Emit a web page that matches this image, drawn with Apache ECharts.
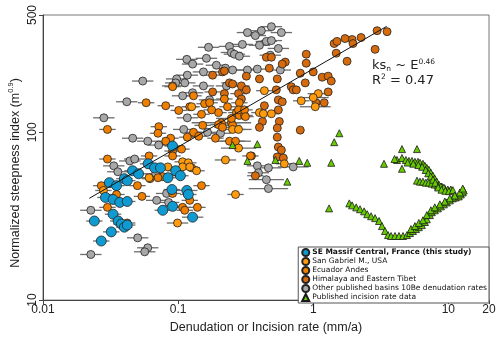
<!DOCTYPE html>
<html>
<head>
<meta charset="utf-8">
<script src="https://cdn.jsdelivr.net/npm/echarts@6/dist/echarts.min.js"></script>
<style>
  html, body { margin: 0; padding: 0; background: #fff; }
  #chart { width: 500px; height: 339px; }
</style>
</head>
<body>
<div id="chart"></div>
<script>
// tick labels
const xTicks = [0.01, 0.1, 1, 10, 20];
const yTicks = [10, 100, 500];

// [rate mm/a, ksn, relative x error (optional)]
const massifCentral = [
  [0.091, 82.8], [0.060, 64.9], [0.067, 61.4], [0.074, 61.4], [0.046, 59.0], [0.051, 56.6],
  [0.040, 52.9], [0.042, 51.5], [0.031, 50.1], [0.035, 48.1], [0.084, 53.6], [0.096, 59.0],
  [0.104, 55.1], [0.090, 45.6], [0.116, 45.0, 0.2], [0.119, 42.6], [0.029, 40.9], [0.033, 39.8],
  [0.037, 38.2], [0.042, 38.7], [0.091, 36.2, 0.2], [0.077, 34.3], [0.128, 31.2, 0.2],
  [0.024, 29.6], [0.033, 32.5], [0.036, 29.6], [0.038, 28.4], [0.040, 27.2], [0.042, 28.0],
  [0.032, 25.5], [0.027, 22.5]
];

const sanGabriel = [
  [1.09, 170, 0.2], [1.00, 161, 0.3], [0.815, 154, 0.15], [1.035, 142, 0.3], [0.435, 177, 0.15],
  [0.400, 131, 0.15], [0.428, 129, 0.15], [0.490, 129, 0.15], [0.611, 64.9, 0.15],
  [0.253, 104, 0.25], [0.280, 104, 0.25], [0.280, 80.5, 0.35], [0.224, 68.4, 0.2],
  [0.137, 59.0], [0.126, 142], [0.108, 66.7], [0.119, 65.8], [0.108, 62.2], [0.122, 62.2],
  [0.084, 62.2], [0.061, 53.6], [0.099, 28.8, 0.2], [0.266, 42.6, 0.15], [0.028, 45.0]
];

const ecuador = [
  [0.122, 142], [0.157, 148], [0.171, 150], [0.199, 131], [0.152, 110], [0.130, 100],
  [0.142, 94.7], [0.189, 92.2], [0.209, 114, 0.66], [0.232, 142], [0.248, 114], [0.253, 110],
  [0.248, 121, 0.3], [0.270, 131], [0.284, 126], [0.310, 126], [0.240, 88.5, 0.3],
  [0.266, 88.5, 0.3], [0.343, 72.3], [0.126, 61.4], [0.149, 48.1], [0.149, 128], [0.177, 136],
  [0.130, 165], [0.220, 158], [0.284, 150], [0.280, 136], [0.310, 136], [0.315, 124],
  [0.091, 187], [0.101, 135], [0.081, 144], [0.058, 150], [0.030, 104], [0.072, 108],
  [0.071, 98.7], [0.088, 92.2], [0.117, 93.5], [0.081, 88.5], [0.199, 111], [0.213, 107],
  [0.106, 79.4], [0.091, 77.3], [0.091, 72.3], [0.061, 72.3], [0.030, 69.3], [0.077, 54.4],
  [0.071, 53.6], [0.050, 48.1], [0.027, 48.1], [0.035, 42.6], [0.030, 35.7], [0.054, 41.5],
  [0.062, 52.9], [0.091, 43.2], [0.122, 39.3], [0.108, 35.7], [0.112, 34.3], [0.139, 35.7],
  [0.042, 28.8]
];

const himalaya = [
  [2.97, 403], [3.52, 398], [2.26, 367], [1.94, 357], [1.97, 338], [1.72, 362], [1.43, 338],
  [1.50, 348], [2.87, 312], [1.48, 296], [0.888, 292], [1.78, 265], [0.888, 258], [0.621, 262],
  [0.590, 255], [0.450, 280], [0.490, 280], [0.473, 241], [0.802, 225], [1.00, 229],
  [1.165, 213], [1.29, 216], [1.36, 202], [0.873, 197], [0.542, 208], [0.400, 208],
  [0.688, 187], [0.711, 179], [0.750, 179], [0.533, 179], [1.29, 174], [1.05, 150],
  [1.205, 150], [0.552, 156], [0.590, 152], [0.435, 144], [0.552, 136], [0.421, 116],
  [0.561, 116], [0.400, 107], [0.542, 106], [0.542, 93.5], [0.802, 103], [0.552, 81.7],
  [0.581, 78.3], [0.542, 71.3], [0.601, 70.3], [0.349, 72.3], [0.373, 55.1, 0.15],
  [0.180, 219, 0.15], [0.213, 229, 0.15], [0.220, 232], [0.320, 216], [0.240, 197, 0.15],
  [0.253, 194], [0.294, 189, 0.15], [0.320, 179], [0.180, 174, 0.15], [0.220, 170],
  [0.280, 170, 0.15], [0.294, 158]
];

const otherBasins = [
  [0.490, 426], [0.413, 403], [0.326, 393], [0.581, 393], [0.373, 377], [0.450, 348],
  [0.490, 352], [0.299, 334], [0.400, 330], [0.552, 316], [0.168, 321], [0.240, 325],
  [0.248, 299], [0.261, 292], [0.284, 284], [0.481, 288], [0.116, 272], [0.128, 255],
  [0.162, 276], [0.192, 251], [0.154, 229], [0.117, 219], [0.224, 241], [0.253, 235],
  [0.326, 235], [0.386, 238], [0.571, 235], [0.0547, 202], [0.0975, 208], [0.0959, 197],
  [0.0911, 189], [0.112, 197], [0.128, 172], [0.154, 189], [0.108, 165], [0.171, 156],
  [0.228, 189], [0.0417, 152], [0.0282, 122], [0.117, 122], [0.110, 104], [0.165, 100],
  [0.206, 98.7], [0.0461, 92.2], [0.0596, 88.5], [0.0718, 83.9], [0.0439, 67.5],
  [0.0477, 69.3], [0.0334, 63.1], [0.0358, 58.2], [0.0682, 56.6], [0.0694, 39.3],
  [0.0851, 38.2], [0.0822, 43.2], [0.0226, 34.3], [0.0226, 18.7], [0.0502, 23.5],
  [0.0596, 20.5], [0.0566, 19.4], [0.386, 63.1, 0.2], [0.466, 61.4, 0.25], [0.393, 57.4, 0.2],
  [0.450, 52.2, 0.35], [0.466, 46.2, 0.4], [0.711, 62.2, 0.3]
];

const incision = [
  [1.56, 98.7], [1.43, 87.3], [0.903, 65.8], [0.788, 67.5], [1.36, 65.8], [3.34, 64.9],
  [4.54, 79.4], [5.86, 79.4], [4.17, 68.4], [4.54, 70.3], [4.54, 60.6], [1.31, 35.2],
  [0.386, 85.0], [0.253, 83.9], [0.326, 67.5], [0.525, 68.4], [0.643, 50.8], [4.00, 69.3],
  // upper arc
  [4.85, 68.4], [5.11, 67.5], [5.38, 67.5], [5.66, 66.7], [5.96, 66.7], [6.17, 65.8],
  [6.49, 64.9], [6.71, 63.1], [6.93, 61.4], [7.18, 59.8], [7.43, 57.4], [7.69, 55.1],
  [7.94, 52.9], [8.22, 50.8], [8.51, 48.8], [8.95, 47.5], [9.42, 46.2], [9.91, 45.6],
  [10.43, 45.6], [5.86, 51.5], [6.17, 50.8], [6.49, 50.8], [6.82, 50.1], [7.18, 50.1],
  [7.55, 49.4], [7.94, 48.8], [8.37, 48.1], [8.81, 47.5], [9.27, 46.8],
  [5.0, 66.0], [5.5, 65.0], [6.0, 63.8], [6.4, 62.3], [6.8, 59.6], [7.1, 57.0], [7.4, 54.6],
  [7.7, 52.2], [8.0, 50.0], [8.4, 46.9], [8.9, 45.5], [9.5, 44.8], [10.1, 44.6], [10.8, 45.2],
  // lower chain
  [1.85, 37.7], [1.94, 36.7], [2.08, 35.7], [2.22, 34.8], [2.38, 33.8], [2.51, 32.5],
  [2.68, 31.6], [2.87, 30.8], [3.07, 29.6], [3.23, 27.6], [3.40, 25.8], [3.58, 24.4],
  [3.77, 24.1], [4.03, 24.1], [4.31, 24.1], [4.62, 24.1], [4.94, 24.4], [5.20, 25.1],
  [5.47, 25.8], [5.76, 26.5], [6.05, 27.2], [6.37, 28.0], [6.71, 29.2], [6.93, 30.3],
  [7.30, 32.1], [7.55, 33.4], [7.94, 34.3], [8.37, 35.2], [8.81, 36.2], [9.27, 37.2],
  [9.75, 38.2], [10.26, 39.3], [10.79, 40.4], [11.35, 40.9], [11.94, 41.5], [12.37, 42.6],
  [12.79, 43.8], [13.01, 45.0], [5.29, 26.5], [5.66, 27.6], [6.05, 28.8], [6.49, 29.9],
  [6.93, 32.1], [7.43, 34.3], [7.94, 35.7], [8.66, 37.2], [9.42, 38.7], [10.26, 40.4],
  [11.17, 42.0], [12.16, 43.8], [12.79, 46.2]
];

// power law fit ksn ~ E^0.46
const fitLine = [[0.022, 40.4], [3.5, 428]];

const groups = [
  { name: 'Other published basins 10Be denudation rates', data: otherBasins, color: '#a8a8a8', size: 8, err: 0.2 },
  { name: 'Himalaya and Eastern Tibet', data: himalaya, color: '#d66b0e', size: 8, err: 0.07 },
  { name: 'Ecuador Andes', data: ecuador, color: '#f07f00', size: 8, err: 0.15 },
  { name: 'San Gabriel M., USA', data: sanGabriel, color: '#ff9b0c', size: 8, err: 0.15 },
  { name: 'SE Massif Central, France (this study)', data: massifCentral, color: '#0f9bd2', size: 10, err: 0.15 }
];

//误差棒数据
let errData = [];
groups.forEach(g => {
  g.data.forEach(p => {
    errData.push([p[0], p[1], p.length > 2 ? p[2] : g.err]);
  });
});

let series = [{
  type: 'custom',
  name: 'err',
  z: 1,
  silent: true,
  encode: { x: 0, y: 1 },
  data: errData,
  renderItem(params, api) {
    let x = api.value(0), y = api.value(1), e = api.value(2);
    if (!e) return null;
    let p1 = api.coord([x / (1 + e), y]);
    let p2 = api.coord([x * (1 + e), y]);
    return {
      type: 'line',
      shape: { x1: p1[0], y1: p1[1], x2: p2[0], y2: p2[1] },
      style: { stroke: '#6e6e6e', lineWidth: 1.3 }
    };
  }
}];

groups.forEach((g, i) => {
  if (i === 4) return;
  series.push({
    type: 'scatter',
    name: g.name,
    z: 2,
    symbol: 'circle',
    symbolSize: g.size,
    data: g.data.map(p => [p[0], p[1]]),
    itemStyle: { color: g.color, borderColor: '#222', borderWidth: 0.8, opacity: 1 }
  });
});

series.push({
  type: 'scatter',
  name: 'Published incision rate data',
  z: 3,
  symbol: 'triangle',
  symbolSize: 7,
  data: incision,
  itemStyle: { color: '#66cc00', borderColor: '#1a1a1a', borderWidth: 0.8, opacity: 1 }
});

series.push({
  type: 'scatter',
  name: groups[4].name,
  z: 4,
  symbol: 'circle',
  symbolSize: groups[4].size,
  data: massifCentral.map(p => [p[0], p[1]]),
  itemStyle: { color: groups[4].color, borderColor: '#222', borderWidth: 0.8, opacity: 1 }
});

series.push({
  type: 'line',
  name: 'fit',
  z: 5,
  symbol: 'none',
  data: fitLine,
  lineStyle: { color: '#111', width: 1 }
});

const chart = echarts.init(document.getElementById('chart'), null, { renderer: 'canvas' });
chart.setOption({
  animation: false,
  backgroundColor: '#fff',
  grid: { left: 43, right: 11, top: 15, bottom: 36, show: true, borderColor: '#777', borderWidth: 1 },
  legend: {
    orient: 'vertical',
    right: 11,
    bottom: 36,
    itemWidth: 7,
    itemHeight: 7,
    itemGap: 0,
    padding: [1, 2, 1, 3],
    borderColor: '#555',
    borderWidth: 1,
    backgroundColor: '#fff',
    textStyle: { fontSize: 7.5, lineHeight: 9, fontFamily: 'DejaVu Sans', color: '#111', padding: [0, 0, 0, -2] },
    data: [
      { name: 'SE Massif Central, France (this study)', textStyle: { fontWeight: 'bold' } },
      'San Gabriel M., USA',
      'Ecuador Andes',
      'Himalaya and Eastern Tibet',
      'Other published basins 10Be denudation rates',
      'Published incision rate data'
    ]
  },
  xAxis: {
    type: 'log',
    logBase: 10,
    min: 0.01,
    max: 20,
    name: 'Denudation or Incision rate (mm/a)',
    nameLocation: 'middle',
    nameGap: 17,
    nameTextStyle: { fontSize: 12.5, fontFamily: 'Liberation Sans', color: '#222' },
    axisLine: { show: true, lineStyle: { color: '#444', width: 1 } },
    axisTick: { show: true, customValues: xTicks, length: 4, lineStyle: { color: '#444' } },
    axisLabel: {
      customValues: xTicks, fontSize: 12, fontFamily: 'Liberation Sans', color: '#222', margin: 4,
      formatter: v => String(v)
    },
    minorTick: { show: false },
    splitLine: { show: false }
  },
  yAxis: {
    type: 'log',
    logBase: 10,
    min: 10,
    max: 500,
    axisLine: { show: true, lineStyle: { color: '#444', width: 1 } },
    axisTick: { show: true, customValues: yTicks, length: 4, lineStyle: { color: '#444' } },
    axisLabel: {
      customValues: yTicks, rotate: 90, fontSize: 12, fontFamily: 'Liberation Sans', color: '#222', margin: 4,
      formatter: v => String(v)
    },
    splitLine: { show: false }
  },
  graphic: [
    {
      type: 'text',
      x: 16,
      y: 173,
      rotation: Math.PI / 2,
      style: {
        text: '{a|Normalized steepness index (m}{s|0.9}{a|)}',
        align: 'center',
        verticalAlign: 'middle',
        rich: {
          a: { fontSize: 12.5, fontFamily: 'Liberation Sans', fill: '#222', lineHeight: 18 },
          s: { fontSize: 7.5, fontFamily: 'Liberation Sans', fill: '#222', verticalAlign: 'top', lineHeight: 18 }
        }
      }
    },
    {
      type: 'text',
      x: 372,
      y: 58,
      style: {
        text: '{a|ks}{sub|n}{a| ~ E}{sup|0.46}\n{a|R}{sup|2}{a| = 0.47}',
        rich: {
          a: { fontSize: 13, fontFamily: 'DejaVu Sans', fill: '#222', lineHeight: 15 },
          sub: { fontSize: 7.5, fontFamily: 'DejaVu Sans', fill: '#222', verticalAlign: 'bottom', lineHeight: 15 },
          sup: { fontSize: 7.5, fontFamily: 'DejaVu Sans', fill: '#222', verticalAlign: 'top', lineHeight: 15 }
        }
      }
    }
  ],
  series
});
</script>
</body>
</html>
